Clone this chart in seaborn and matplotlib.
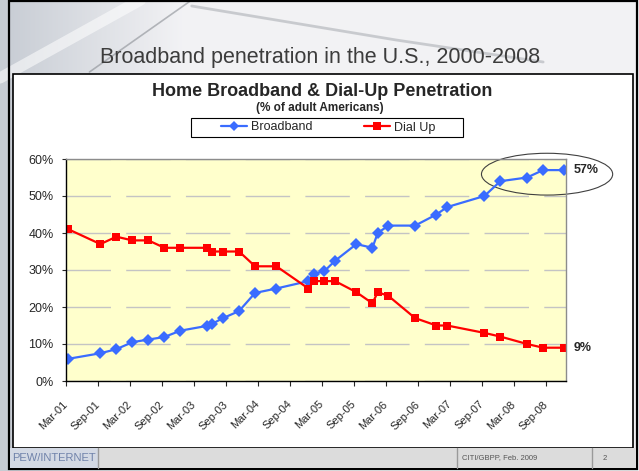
import numpy as np
import pandas as pd
import matplotlib
matplotlib.use('Agg')
import matplotlib.pyplot as plt
import seaborn as sns
from matplotlib.patches import Rectangle, Ellipse
from matplotlib.lines import Line2D
from matplotlib.transforms import ScaledTranslation

# Fechas de encuesta (año-mes)
fechas = ['2001-03', '2001-09', '2001-12', '2002-03', '2002-06', '2002-09', '2002-12',
          '2003-05', '2003-06', '2003-08', '2003-11', '2004-02', '2004-06', '2004-12',
          '2005-01', '2005-03', '2005-05', '2005-09', '2005-12', '2006-01', '2006-03',
          '2006-08', '2006-12', '2007-02', '2007-09', '2007-12', '2008-05', '2008-08', '2008-12']
broadband = [6, 7.5, 8.6, 10.5, 11.2, 11.9, 13.6, 14.9, 15.5, 17, 18.9, 23.8, 25, 27,
             29, 29.7, 32.5, 37, 36, 40, 42, 42, 45, 47, 50, 54, 55, 57, 57]
dial_up = [41, 37, 39, 38, 38, 36, 36, 36, 35, 35, 35, 31, 31, 25,
           27, 27, 27, 24, 21, 24, 23, 17, 15, 15, 13, 12, 10, 9, 9]
etiquetas_x = ['Mar-01', 'Sep-01', 'Mar-02', 'Sep-02', 'Mar-03', 'Sep-03', 'Mar-04', 'Sep-04',
               'Mar-05', 'Sep-05', 'Mar-06', 'Sep-06', 'Mar-07', 'Sep-07', 'Mar-08', 'Sep-08']
series = ['Broadband', 'Dial Up']
colores = {'Broadband': '#3a6cff', 'Dial Up': '#ff0000'}

# meses desde marzo 2001 (mitad de mes)
f = pd.to_datetime(fechas)
mes = (f.year - 2001) * 12 + (f.month - 3) + 0.45

df = pd.DataFrame({
    'mes': np.concatenate([mes, mes]),
    'valor': broadband + dial_up,
    'serie': ['Broadband'] * len(mes) + ['Dial Up'] * len(mes),
})

sns.set_style('white')
plt.rcParams['font.family'] = ['Liberation Sans', 'DejaVu Sans']

W, H = 639, 471
fig = plt.figure(figsize=(W / 100, H / 100), dpi=100)


def caja(x0, y0, x1, y1, **kw):
    # rectangulo en pixeles (origen arriba a la izquierda)
    r = Rectangle((x0 / W, 1 - y1 / H), (x1 - x0) / W, (y1 - y0) / H,
                  transform=fig.transFigure, **kw)
    fig.add_artist(r)
    return r


# fondo tipo diapositiva
bg = fig.add_axes([0, 0, 1, 1], zorder=-10)
bg.axis('off')
grad = np.linspace(0, 1, 256)
img = np.ones((1, 256, 3))
c0 = np.array([0.78, 0.80, 0.83])
c1 = np.array([0.95, 0.95, 0.96])
img[0] = c0 + (c1 - c0) * np.clip(grad * 3.5, 0, 1)[:, None]
bg.imshow(img, extent=[0, 1, 0, 1], aspect='auto', transform=bg.transAxes)
bg.plot([0.0, 0.22], [1 - 78 / H, 1.0], color='white', lw=8, alpha=0.55, transform=bg.transAxes)
bg.plot([0.14, 0.30], [1 - 72 / H, 1.0], color='#8a8e94', lw=1.2, alpha=0.6, transform=bg.transAxes)
bg.plot([0.30, 0.62, 0.85], [1 - 6 / H, 1 - 40 / H, 1 - 62 / H], color='#a0a4aa', lw=2, alpha=0.5,
        transform=bg.transAxes)
bg.set_xlim(0, 1)
bg.set_ylim(0, 1)

caja(9, 1, 637, 469, facecolor='none', edgecolor='black', lw=1.6, zorder=-2)
caja(13, 74, 633, 448, facecolor='white', edgecolor='black', lw=1.2, zorder=-1)
caja(10, 448, 636, 468, facecolor='#dcdcdc', edgecolor='none', zorder=-1)
caja(10, 448, 98, 468, facecolor='#d3d9e4', edgecolor='none', zorder=-1)
for xd in [98, 457, 592]:
    fig.add_artist(Line2D([xd / W, xd / W], [1 - 448 / H, 1 - 468 / H], color='#9a9a9a', lw=1,
                          transform=fig.transFigure, zorder=-1))
# marco de la leyenda
caja(191, 118, 463, 137, facecolor='white', edgecolor='black', lw=0.8, zorder=-0.5)

fig.text(320 / W, 1 - 57 / H, 'Broadband penetration in the U.S., 2000-2008',
         fontsize=15.5, color='#3c3c3c', ha='center', va='center')
fig.text(322 / W, 1 - 92 / H, 'Home Broadband & Dial-Up Penetration', fontsize=13,
         fontweight='bold', ha='center', va='center')
fig.text(320 / W, 1 - 108 / H, '(% of adult Americans)', fontsize=8.5,
         fontweight='bold', ha='center', va='center')
fig.text(54 / W, 1 - 458 / H, 'PEW/INTERNET', fontsize=8, color='#6f82aa',
         ha='center', va='center')
fig.text(462 / W, 1 - 458 / H, 'CITI/GBPP, Feb. 2009', fontsize=5.5, color='#555555',
         ha='left', va='center')
fig.text(603 / W, 1 - 458 / H, '2', fontsize=5.5, color='#555555', ha='left', va='center')

# area del grafico
ax = fig.add_axes([66 / W, 1 - 381 / H, 500 / W, 222 / H])
ax.set_facecolor('#ffffcc')
sns.lineplot(data=df, x='mes', y='valor', hue='serie', style='serie',
             markers={'Broadband': 'D', 'Dial Up': 's'}, dashes=False,
             palette=colores, linewidth=1.6, markersize=6, markeredgewidth=0,
             legend=False, ax=ax)
ax.set_xlim(0, 93.75)
ax.set_ylim(0, 60)
ax.set_xlabel('')
ax.set_ylabel('')
ax.set_yticks(range(0, 61, 10))
ax.set_yticklabels([f'{v}%' for v in range(0, 61, 10)], fontsize=9)
ax.set_xticks(range(0, 91, 6))
ax.set_xticklabels(etiquetas_x, fontsize=8, rotation=45, ha='right', va='center',
                   rotation_mode='anchor')
for lab in ax.get_xticklabels():
    lab.set_transform(lab.get_transform() + ScaledTranslation(-18 / 100, 0, fig.dpi_scale_trans))
ax.tick_params(axis='x', length=3.5, width=0.8, pad=12, direction='out', bottom=True)
ax.tick_params(axis='y', length=3, width=0.8, pad=6, direction='out', left=True)
ax.yaxis.grid(True, color='#c4c4c4', linestyle=(0, (32, 11)), linewidth=1)
ax.xaxis.grid(False)
for s in ['left', 'bottom']:
    ax.spines[s].set_color('black')
    ax.spines[s].set_linewidth(1)
for s in ['top', 'right']:
    ax.spines[s].set_color('#8c8c8c')
    ax.spines[s].set_linewidth(1)

ax.annotate(f'{broadband[-1]:.0f}%', xy=(mes[-1], broadband[-1]), xytext=(7, 0),
            textcoords='offset points', va='center', fontsize=9, fontweight='bold',
            annotation_clip=False)
ax.annotate(f'{dial_up[-1]:.0f}%', xy=(mes[-1], dial_up[-1]), xytext=(7, 0),
            textcoords='offset points', va='center', fontsize=9, fontweight='bold',
            annotation_clip=False)
ax.add_patch(Ellipse((90.2, 55.9), 24.6, 11.3, fill=False, edgecolor='#404040', lw=0.8,
                     clip_on=False))

handles = [Line2D([], [], color=colores['Broadband'], marker='D', markersize=5, lw=1.6,
                  markeredgewidth=0),
           Line2D([], [], color=colores['Dial Up'], marker='s', markersize=6, lw=1.6,
                  markeredgewidth=0)]
leg = fig.legend(handles, series, ncol=2, loc='center', bbox_to_anchor=(328 / W, 1 - 127.5 / H),
                 fontsize=9, frameon=False, handlelength=2.1,
                 columnspacing=4.1, handletextpad=0.3, borderpad=0.2)

fig.savefig('out.png', dpi=100)
